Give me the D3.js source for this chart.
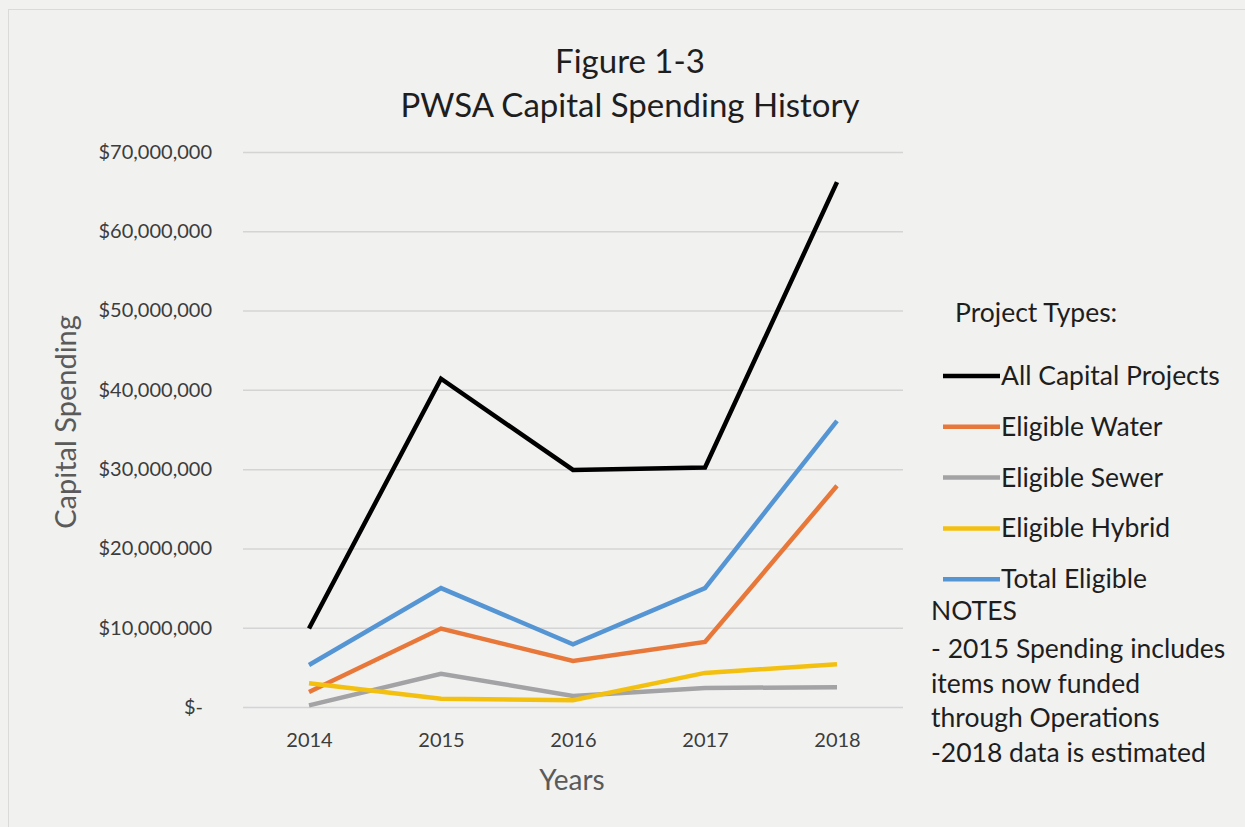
<!DOCTYPE html>
<html>
<head>
<meta charset="utf-8">
<script src="https://cdn.jsdelivr.net/npm/d3@7"></script>
<style>
    body { margin: 0; background: #f1f1f0; }
    svg { display: block; font-family: Lato, "Open Sans", sans-serif; }
</style>
</head>
<body>
<div id="chart"></div>
<script>
var years = ["2014", "2015", "2016", "2017", "2018"];
var seriesNames = ["All Capital Projects", "Eligible Water", "Eligible Sewer", "Eligible Hybrid", "Total Eligible"];
var allCapital = [9900000, 41400000, 29900000, 30200000, 66200000];
var eligibleWater = [1900000, 9900000, 5800000, 8200000, 27900000];
var eligibleSewer = [200000, 4200000, 1400000, 2400000, 2500000];
var eligibleHybrid = [3000000, 1050000, 850000, 4300000, 5400000];
var totalEligible = [5300000, 15000000, 7900000, 15000000, 36100000];
var yTicks = [0, 10000000, 20000000, 30000000, 40000000, 50000000, 60000000, 70000000];
var notes = ["- 2015 Spending includes", "items now funded", "through Operations", "-2018 data is estimated"];

var colors = ["#000000", "#e8773a", "#a3a3a6", "#f3c010", "#5595d4"];
var series = [allCapital, eligibleWater, eligibleSewer, eligibleHybrid, totalEligible].map(function (vals, i) {
    return {name: seriesNames[i], color: colors[i], values: vals.map(function (v, j) { return {x: years[j], y: v}; })};
});

var W = 1245, H = 827;
var margin = {top: 152, left: 243, right: 342, bottom: 120};
var width = W - margin.left - margin.right;
var height = H - margin.top - margin.bottom;

var svg = d3.select("#chart").append("svg")
    .attr("width", W)
    .attr("height", H);

svg.append("rect").attr("width", W).attr("height", H).attr("fill", "#f1f1f0");
// faint edge of the scanned page
svg.append("rect").attr("x", 8.5).attr("y", 9.5).attr("width", 1400).attr("height", 1000)
    .attr("fill", "none").attr("stroke", "#dadada").attr("stroke-width", 1);

var x = d3.scalePoint().domain(years).range([0, width]).padding(0.5);
var y = d3.scaleLinear().domain([0, 70000000]).range([height, 0]);

var vis = svg.append("g")
    .attr("transform", "translate(" + margin.left + "," + margin.top + ")");

// gridlines + y labels
var fmt = d3.format("$,.0f");
var yaxis = d3.axisLeft(y).tickValues(yTicks).tickSize(-width).tickPadding(31)
    .tickFormat(function (d) { return d === 0 ? "$-" : fmt(d); });

vis.append("g")
    .attr("class", "yaxis")
    .call(yaxis)
    .attr("font-family", null)
    .call(function (g) {
        g.select(".domain").remove();
        g.selectAll(".tick line").attr("stroke", "#d4d4d4").attr("stroke-width", 1.5);
        g.selectAll(".tick text").attr("fill", "#3c3c3c").style("font-size", "20px");
        g.selectAll(".tick text").filter(function (d) { return d === 0; }).attr("x", -40);
    });

var xaxis = d3.axisBottom(x).tickSize(0).tickPadding(26);
vis.append("g")
    .attr("class", "xaxis")
    .attr("transform", "translate(0," + height + ")")
    .call(xaxis)
    .attr("font-family", null)
    .call(function (g) {
        g.select(".domain").remove();
        g.selectAll(".tick text").attr("fill", "#3c3c3c").style("font-size", "20px");
    });

var valueline = d3.line()
    .x(function (d) { return x(d.x); })
    .y(function (d) { return y(d.y); });

vis.selectAll("path.line")
    .data(series)
    .enter().append("path")
    .attr("class", "line")
    .attr("d", function (d) { return valueline(d.values); })
    .attr("fill", "none")
    .attr("stroke", function (d) { return d.color; })
    .attr("stroke-width", 4.5)
    .attr("stroke-linejoin", "miter");

// titles
svg.append("text")
    .attr("x", 630).attr("y", 73)
    .attr("text-anchor", "middle")
    .style("font-size", "33px").attr("fill", "#1e1e1e")
    .text("Figure 1-3");
svg.append("text")
    .attr("x", 630).attr("y", 117)
    .attr("text-anchor", "middle")
    .style("font-size", "33px").attr("fill", "#1e1e1e")
    .text("PWSA Capital Spending History");

svg.append("text")
    .attr("x", -422)
    .attr("y", 76)
    .attr("transform", "rotate(-90)")
    .attr("text-anchor", "middle")
    .style("font-size", "29px").attr("fill", "#5a5a5a")
    .text("Capital Spending");

svg.append("text")
    .attr("x", 572)
    .attr("y", 790)
    .attr("text-anchor", "middle")
    .style("font-size", "28px").attr("fill", "#5a5a5a")
    .text("Years");

// legend
var legend = svg.append("g").attr("transform", "translate(943,0)");
legend.append("text")
    .attr("x", 12).attr("y", 322)
    .style("font-size", "26.5px").attr("fill", "#1e1e1e")
    .text("Project Types:");

var item = legend.selectAll("g.item")
    .data(series)
    .enter().append("g")
    .attr("class", "item")
    .attr("transform", function (d, i) { return "translate(0," + (376 + i * 50.8) + ")"; });
item.append("line")
    .attr("x1", 0).attr("x2", 57)
    .attr("stroke", function (d) { return d.color; })
    .attr("stroke-width", 4.5);
item.append("text")
    .attr("x", 58).attr("y", 9)
    .style("font-size", "26.5px").attr("fill", "#1e1e1e")
    .text(function (d) { return d.name; });

svg.append("text")
    .attr("x", 931).attr("y", 620)
    .style("font-size", "26.5px").attr("fill", "#1e1e1e")
    .text("NOTES");
svg.append("g").selectAll("text")
    .data(notes)
    .enter().append("text")
    .attr("x", 931)
    .attr("y", function (d, i) { return 658 + i * 34.7; })
    .style("font-size", "26.5px").attr("fill", "#1e1e1e")
    .text(function (d) { return d; });
</script>
</body>
</html>
